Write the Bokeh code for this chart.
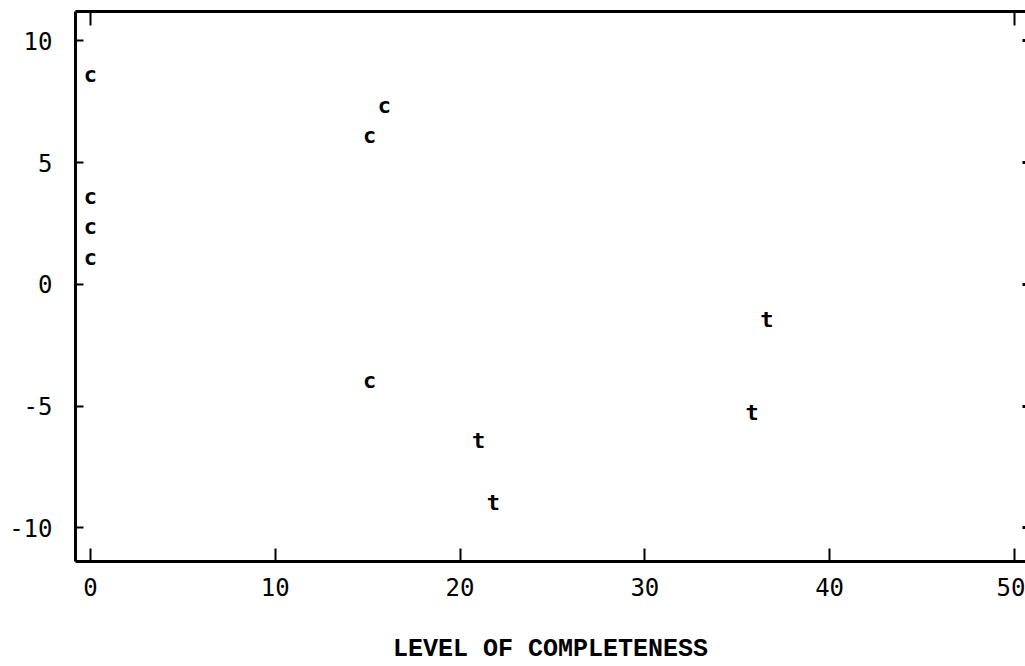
from bokeh.plotting import figure
from bokeh.models import Range1d, LinearAxis, FixedTicker, ColumnDataSource, PrintfTickFormatter
from bokeh.core.properties import value
from bokeh.embed import file_html
from bokeh.resources import INLINE

# Data
c_x = [0.0, 0.0, 0.0, 0.0, 15.1, 15.9, 15.1]
c_y = [8.64, 3.63, 2.36, 1.12, 6.12, 7.35, -3.94]
t_x = [21.0, 21.8, 35.8, 36.6]
t_y = [-6.4, -8.95, -5.26, -1.44]
x_ticks = [0, 10, 20, 30, 40, 50]
y_ticks = [-10, -5, 0, 5, 10]
x_label = "LEVEL OF COMPLETENESS"

p = figure(width=1025, height=666, output_backend="svg", toolbar_location=None,
           x_range=Range1d(-0.81, 50.6), y_range=Range1d(-11.38, 11.21),
           x_axis_location=None, y_axis_location=None,
           min_border_left=75, min_border_right=0, min_border_top=11, min_border_bottom=105)
p.outline_line_color = None
p.grid.visible = False
p.background_fill_color = "white"
p.border_fill_color = "white"

tick_font = "DejaVu Sans Mono"

bottom = LinearAxis(ticker=FixedTicker(ticks=x_ticks), axis_label=x_label,
                    formatter=PrintfTickFormatter(format="%d"))
bottom.axis_line_width = 3
bottom.major_tick_in = 13
bottom.major_tick_out = 0
bottom.major_tick_line_width = 2
bottom.minor_tick_line_color = None
bottom.major_label_text_font = tick_font
bottom.major_label_text_font_size = "24px"
bottom.major_label_text_color = "black"
bottom.major_label_standoff = 16
bottom.axis_label_text_font = "Liberation Mono"
bottom.axis_label_text_font_style = "bold"
bottom.axis_label_text_font_size = "25px"
bottom.axis_label_text_color = "black"
bottom.axis_label_standoff = 36
p.add_layout(bottom, "below")

left = LinearAxis(ticker=FixedTicker(ticks=y_ticks), formatter=PrintfTickFormatter(format="%d"))
left.axis_line_width = 3
left.major_tick_in = 8
left.major_tick_out = 0
left.major_tick_line_width = 2
left.minor_tick_line_color = None
left.major_label_text_font = tick_font
left.major_label_text_font_size = "24px"
left.major_label_text_color = "black"
left.major_label_standoff = 23
p.add_layout(left, "left")

top = LinearAxis(ticker=FixedTicker(ticks=[0, 50]))
top.axis_line_width = 3
top.major_tick_in = 14
top.major_tick_out = 0
top.major_tick_line_width = 2
top.minor_tick_line_color = None
top.major_label_text_font_size = "0px"
top.major_label_text_color = None
p.add_layout(top, "above")

right = LinearAxis(ticker=FixedTicker(ticks=y_ticks))
right.axis_line_color = None
right.major_tick_in = 3
right.major_tick_out = 0
right.major_tick_line_width = 3
right.minor_tick_line_color = None
right.major_label_text_font_size = "0px"
right.major_label_text_color = None
p.add_layout(right, "right")

src_c = ColumnDataSource(dict(x=c_x, y=c_y, t=["c"] * len(c_x)))
src_t = ColumnDataSource(dict(x=t_x, y=t_y, t=["t"] * len(t_x)))
for src in (src_c, src_t):
    p.text(x="x", y="y", text="t", source=src, text_align="center", text_baseline="middle",
           text_font=value("DejaVu Sans Mono"), text_font_style="bold", text_font_size="22px",
           text_color="black")

open("out.html", "w").write(file_html(p, INLINE))
